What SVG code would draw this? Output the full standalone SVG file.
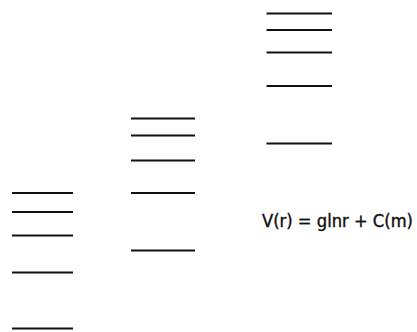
<svg xmlns="http://www.w3.org/2000/svg" width="417" height="332" viewBox="0 0 417 332">
<style>
.lv{stroke:#111;stroke-width:2;fill:none}
.lbl{font-family:"DejaVu Sans Condensed","Liberation Sans",sans-serif;font-size:18px;fill:#111;stroke:#111;stroke-width:0.4}
</style>
<rect width="417" height="332" fill="#fff"/>
<g id="levels-left">
<line class="lv" x1="12" y1="193" x2="73" y2="193"/>
<line class="lv" x1="12" y1="212" x2="73" y2="212"/>
<line class="lv" x1="12" y1="235.5" x2="73" y2="235.5"/>
<line class="lv" x1="12" y1="272.5" x2="73" y2="272.5"/>
<line class="lv" x1="12" y1="328.5" x2="73" y2="328.5"/>
</g>
<g id="levels-middle">
<line class="lv" x1="131" y1="118.5" x2="195" y2="118.5"/>
<line class="lv" x1="131" y1="135.5" x2="195" y2="135.5"/>
<line class="lv" x1="131" y1="160.5" x2="195" y2="160.5"/>
<line class="lv" x1="131" y1="193" x2="195" y2="193"/>
<line class="lv" x1="131" y1="250.5" x2="195" y2="250.5"/>
</g>
<g id="levels-right">
<line class="lv" x1="266.5" y1="13.5" x2="332" y2="13.5"/>
<line class="lv" x1="266.5" y1="30" x2="332" y2="30"/>
<line class="lv" x1="266.5" y1="52.5" x2="332" y2="52.5"/>
<line class="lv" x1="266.5" y1="86" x2="332" y2="86"/>
<line class="lv" x1="266.5" y1="143.5" x2="332" y2="143.5"/>
</g>
<g id="label">
<text class="lbl" x="262" y="227" textLength="151" lengthAdjust="spacingAndGlyphs">V(r) = glnr + C(m)</text>
</g>
</svg>
